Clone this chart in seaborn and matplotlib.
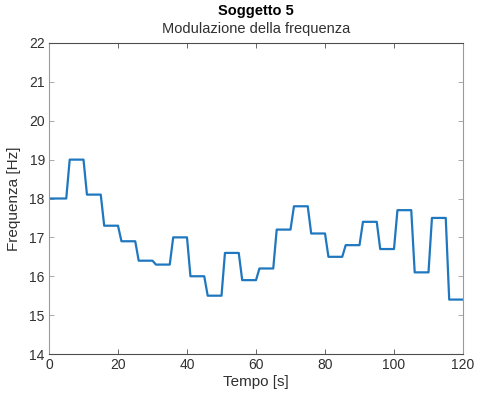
import matplotlib
matplotlib.use("Agg")
import matplotlib.pyplot as plt
import seaborn as sns
import pandas as pd

# Frequency-modulation profile for subject 5: step levels joined by 1 s ramps
tempo = [0, 5, 6, 10, 11, 15, 16, 20, 21, 25, 26, 30, 31, 35, 36, 40,
         41, 45, 46, 50, 51, 55, 56, 60, 61, 65, 66, 70, 71, 75, 76, 80,
         81, 85, 86, 90, 91, 95, 96, 100, 101, 105, 106, 110, 111, 115, 116, 120]
frequenza = [18.0, 18.0, 19.0, 19.0, 18.1, 18.1, 17.3, 17.3, 16.9, 16.9, 16.4, 16.4,
             16.3, 16.3, 17.0, 17.0, 16.0, 16.0, 15.5, 15.5, 16.6, 16.6, 15.9, 15.9,
             16.2, 16.2, 17.2, 17.2, 17.8, 17.8, 17.1, 17.1, 16.5, 16.5, 16.8, 16.8,
             17.4, 17.4, 16.7, 16.7, 17.7, 17.7, 16.1, 16.1, 17.5, 17.5, 15.4, 15.4]
x_ticks = [0, 20, 40, 60, 80, 100, 120]
y_ticks = [14, 15, 16, 17, 18, 19, 20, 21, 22]

sns.set_theme(style="white")
plt.rcParams["font.family"] = ["Liberation Sans", "DejaVu Sans"]

dark = "#303030"
axis_grey = "#4d4d4d"
light_grey = "#9a9a9a"

df = pd.DataFrame({"Tempo": tempo, "Frequenza": frequenza})

fig = plt.figure(figsize=(4.81, 3.99), dpi=100)
ax = fig.add_axes([49 / 481, 1 - 354 / 399, (463 - 49) / 481, (354 - 43) / 399])

sns.lineplot(data=df, x="Tempo", y="Frequenza", ax=ax, sort=False,
             estimator=None, color="#1f78bf", linewidth=1.6)

ax.set_xlim(0, 120)
ax.set_ylim(14, 22)
ax.set_xticks(x_ticks)
ax.set_yticks(y_ticks)
ax.tick_params(axis="x", direction="in", length=3.5, width=0.6, colors=axis_grey,
               labelcolor=dark, labelsize=10, top=True, bottom=True, pad=3)
ax.tick_params(axis="y", direction="in", length=3.5, width=0.6, colors=light_grey,
               labelcolor=dark, labelsize=10, left=True, right=True, pad=3)
ax.spines["top"].set_color(axis_grey)
ax.spines["bottom"].set_color(axis_grey)
ax.spines["left"].set_color(light_grey)
ax.spines["right"].set_color(light_grey)
for sp in ax.spines.values():
    sp.set_linewidth(0.8)

ax.set_xlabel("Tempo [s]", fontsize=11, color=dark, labelpad=2)
ax.set_ylabel("Frequenza [Hz]", fontsize=11, color=dark, labelpad=6)

fig.text(256 / 481, 1 - 11 / 399, "Soggetto 5", ha="center", va="center",
         fontsize=10.5, fontweight="bold", color="black")
fig.text(256 / 481, 1 - 29 / 399, "Modulazione della frequenza", ha="center",
         va="center", fontsize=10.5, color=dark)

fig.savefig("out.png", dpi=100, facecolor="white")
